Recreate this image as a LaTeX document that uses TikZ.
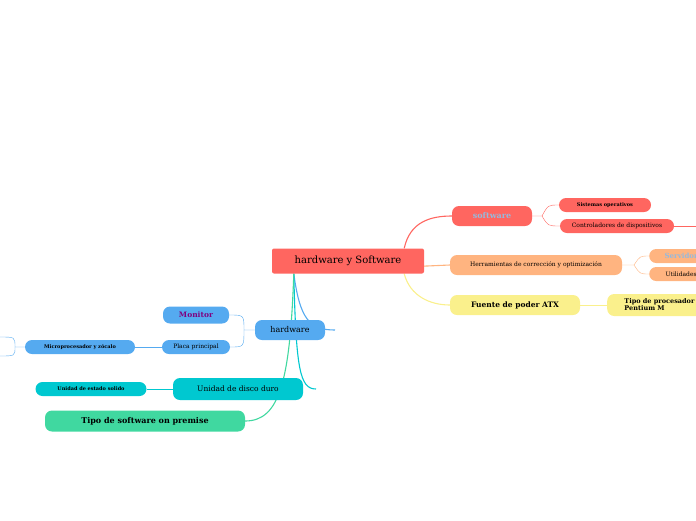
\documentclass[tikz,border=0pt]{standalone}
\usepackage{fontspec}
\setmainfont{DejaVu Serif}
\usetikzlibrary{positioning,backgrounds}
\definecolor{red1}{RGB}{255,102,96}
\definecolor{orng}{RGB}{255,180,128}
\definecolor{yel}{RGB}{250,240,140}
\definecolor{blu}{RGB}{85,170,240}
\definecolor{teal1}{RGB}{0,200,208}
\definecolor{grn}{RGB}{64,216,160}
\definecolor{sky}{RGB}{150,185,220}
\tikzset{
  topic/.style={rounded corners=7pt,inner sep=0pt,minimum height=#1,anchor=center},
  topic/.default=14pt,
  tiny/.style={font=\fontsize{5}{6}\selectfont\bfseries},
  small/.style={font=\fontsize{6}{7}\selectfont},
  main/.style={line width=1.1pt},
}
\begin{document}
\begin{tikzpicture}[x=1pt,y=-1pt]
\useasboundingbox (0,0) rectangle (696,520);

% central topic
\node (root) [fill=red1,rounded corners=2pt,minimum width=152pt,minimum height=25pt,font=\fontsize{10}{12}\selectfont] at (348,261) {hardware y Software};

% right branches
\node (soft) [topic=20pt,fill=red1,minimum width=80pt,text=sky,font=\fontsize{8}{9}\selectfont\bfseries] at (492,216) {software};
\node (sist) [topic,fill=red1,minimum width=92pt,tiny] at (605,205) {Sistemas operativos};
\node (ctrl) [topic,fill=red1,minimum width=114pt,small] at (617,226) {Controladores de dispositivos};
\coordinate (ctrlend) at (700,226);
\node (herr) [topic=20pt,fill=orng,minimum width=172pt,small] at (536,265) {Herramientas de corrección y optimización};
\node (serv) [topic,fill=orng,minimum width=70pt,text=sky,font=\fontsize{7}{8}\selectfont\bfseries,anchor=west] at (649,256) {\ Servidores};
\node (util) [topic,fill=orng,minimum width=60pt,small,anchor=west] at (649,274) {\ \ Utilidades};
\node (fuen) [topic=20pt,fill=yel,minimum width=130pt,font=\fontsize{7.5}{9}\selectfont\bfseries] at (515,305) {Fuente de poder ATX};
\node (tipo) [topic=22pt,fill=yel,minimum width=100pt,anchor=west,align=left,font=\fontsize{6.5}{7}\selectfont\bfseries] at (607,305) {\ \ Tipo de procesador\\\ \ Pentium M};

% left branches
\node (hard) [topic=20pt,fill=blu,minimum width=70pt,font=\fontsize{8}{9}\selectfont] at (290,330) {hardware};
\coordinate (hardend) at (335,330);
\node (moni) [topic=17pt,fill=blu,minimum width=66pt,text=violet,font=\fontsize{7.5}{9}\selectfont\bfseries] at (196,315) {Monitor};
\node (plac) [topic,fill=blu,minimum width=68pt,small] at (196,347) {Placa principal};
\node (micr) [topic,fill=blu,minimum width=110pt,tiny] at (80,347) {Microprocesador y zócalo};
\node (disc) [topic=22pt,fill=teal1,minimum width=130pt,font=\fontsize{7.5}{9}\selectfont] at (238,389) {Unidad de disco duro};
\coordinate (discend) at (316,389);
\node (soli) [topic,fill=teal1,minimum width=111pt,tiny] at (91,389) {Unidad de estado solido};
\node (prem) [topic=21pt,fill=grn,minimum width=200pt,font=\fontsize{8}{9}\selectfont\bfseries] at (145,421) {Tipo de software on premise};

% connectors
\begin{pgfonlayer}{background}
\draw [red1,main] (root.north east) ++(-20,0) .. controls (410,222) and (430,216) .. (soft.west);
\draw [red1] (soft.east) -- (542,216) .. controls (548,205) .. (sist.west);
\draw [red1] (542,216) .. controls (548,226) .. (ctrl.west);
\draw [red1] (ctrl.east) -- (ctrlend);
\draw [orng,main] (root.east) ++(-20,6) -- (herr.west);
\draw [orng] (herr.east) -- (634,265) .. controls (640,256) .. (serv.west);
\draw [orng] (634,265) .. controls (640,274) .. (util.west);
\draw [yel,main] (root.south east) ++(-20,0) .. controls (410,296) and (430,305) .. (fuen.west);
\draw [yel] (fuen.east) -- (tipo.west);
\draw [blu,main] (root.south west) ++(22,0) .. controls (300,320) and (310,330) .. (hardend);
\draw [blu] (hard.west) -- (244,330) .. controls (244,315) .. (moni.east);
\draw [blu] (244,330) .. controls (244,347) .. (plac.east);
\draw [blu] (plac.west) -- (micr.east);
\draw [blu] (micr.west) -- (15,347) .. controls (15,337) .. (0,337);
\draw [blu] (15,347) .. controls (15,356) .. (0,356);
\draw [teal1,main] (root.south west) ++(22,0) .. controls (296,370) and (300,389) .. (discend);
\draw [teal1] (disc.west) -- (soli.east);
\draw [grn,main] (root.south west) ++(22,0) .. controls (290,380) and (280,421) .. (prem.east);
\end{pgfonlayer}
\end{tikzpicture}
\end{document}
